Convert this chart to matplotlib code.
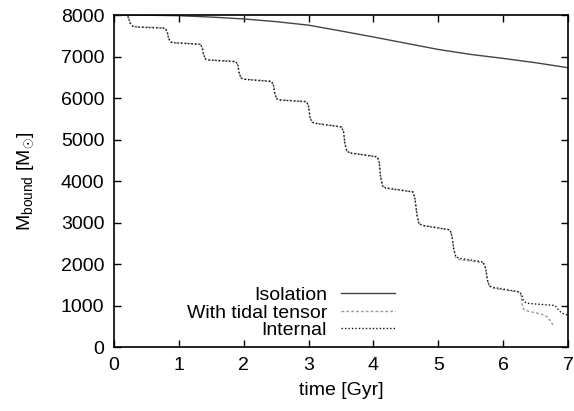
import matplotlib
matplotlib.use("Agg")
import matplotlib.pyplot as plt

plt.rcParams['font.family'] = ['Liberation Sans', 'DejaVu Sans']
plt.rcParams['mathtext.fontset'] = 'custom'
plt.rcParams['mathtext.rm'] = 'Liberation Sans'
plt.rcParams['mathtext.it'] = 'Liberation Sans'

# bound mass vs time
t_iso = [0.0, 0.5, 1.0, 1.5, 2.0, 2.5, 3.0, 3.5, 4.0, 4.5, 5.0, 5.5, 6.0, 6.5, 7.0]
m_iso = [8000, 7995, 7983, 7950, 7905, 7840, 7755, 7615, 7470, 7320, 7170, 7050, 6955, 6850, 6730]

t_int = [0.00, 0.18, 0.22, 0.25, 0.29, 0.35, 0.79, 0.82, 0.84, 0.87, 0.92,
         1.33, 1.36, 1.38, 1.41, 1.46, 1.88, 1.91, 1.93, 1.96, 2.01,
         2.43, 2.46, 2.48, 2.51, 2.56, 2.97, 3.00, 3.02, 3.05, 3.10,
         3.51, 3.54, 3.56, 3.59, 3.64, 4.06, 4.09, 4.11, 4.14, 4.19,
         4.61, 4.64, 4.67, 4.70, 4.75, 5.18, 5.21, 5.24, 5.27, 5.32,
         5.69, 5.73, 5.76, 5.79, 5.84, 6.26, 6.29, 6.31, 6.34, 6.40,
         6.80, 6.85, 6.90, 7.00]
m_int = [8000, 7995, 7950, 7800, 7730, 7710, 7680, 7600, 7450, 7350, 7330,
         7295, 7220, 7050, 6940, 6915, 6875, 6790, 6600, 6480, 6450,
         6395, 6300, 6100, 5980, 5950, 5910, 5800, 5550, 5420, 5390,
         5300, 5180, 4900, 4720, 4675, 4580, 4450, 4100, 3880, 3830,
         3735, 3580, 3200, 2980, 2930, 2820, 2680, 2350, 2180, 2140,
         2050, 1900, 1600, 1470, 1440, 1325, 1250, 1130, 1080, 1050,
         1000, 900, 820, 770]

t_tid = [0.00, 0.18, 0.22, 0.25, 0.29, 0.35, 0.79, 0.82, 0.84, 0.87, 0.92,
         1.33, 1.36, 1.38, 1.41, 1.46, 1.88, 1.91, 1.93, 1.96, 2.01,
         2.43, 2.46, 2.48, 2.51, 2.56, 2.97, 3.00, 3.02, 3.05, 3.10,
         3.51, 3.54, 3.56, 3.59, 3.64, 4.06, 4.09, 4.11, 4.14, 4.19,
         4.61, 4.64, 4.67, 4.70, 4.75, 5.18, 5.21, 5.24, 5.27, 5.32,
         5.69, 5.73, 5.76, 5.79, 5.84, 6.26, 6.28, 6.30, 6.33, 6.40,
         6.60, 6.69, 6.73, 6.77]
m_tid = [8000, 7995, 7950, 7800, 7730, 7715, 7690, 7600, 7450, 7350, 7335,
         7300, 7220, 7050, 6940, 6920, 6880, 6790, 6600, 6480, 6455,
         6405, 6300, 6100, 5980, 5955, 5915, 5800, 5550, 5420, 5395,
         5305, 5180, 4900, 4720, 4680, 4585, 4450, 4100, 3880, 3835,
         3740, 3580, 3200, 2980, 2935, 2825, 2680, 2350, 2160, 2110,
         2030, 1900, 1600, 1460, 1420, 1320, 1200, 950, 890, 860,
         790, 720, 620, 530]

fig = plt.figure(figsize=(5.74, 4.11), dpi=100)
ax = fig.add_axes([0.1986, 0.1557, 0.7909, 0.8078])

ax.plot(t_iso, m_iso, color='#444444', lw=1.0, ls='-', label='Isolation')
ax.plot(t_tid, m_tid, color='#999999', lw=1.0, ls=(0, (2, 1.5)), label='With tidal tensor')
ax.plot(t_int, m_int, color='#111111', lw=1.0, ls=(0, (1, 1.5)), label='Internal')

ax.set_xlim(0, 7)
ax.set_ylim(0, 8000)
ax.set_xticks(range(0, 8))
ax.set_yticks(range(0, 8001, 1000))
ax.tick_params(direction='in', top=True, right=True, length=5, width=1, labelsize=14, pad=7)
for s in ax.spines.values():
    s.set_linewidth(1.2)

ax.set_xlabel('time [Gyr]', fontsize=14, labelpad=6)
ax.set_ylabel(r'M$_{\rm bound}$ [M$_{\odot}$]', fontsize=14, labelpad=18)

ax.legend(loc='lower right', bbox_to_anchor=(0.636, 0.0), frameon=False, markerfirst=False,
          fontsize=14, handlelength=2.8, handletextpad=0.7, labelspacing=0.0, borderaxespad=0)

fig.savefig('out.png', dpi=100)
